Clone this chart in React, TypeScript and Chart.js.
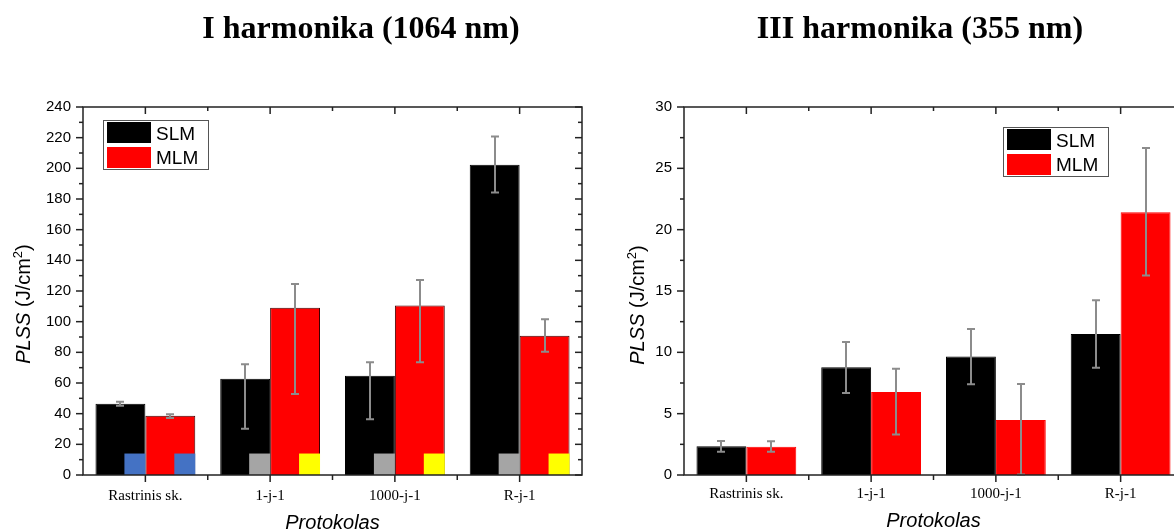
import React, { useEffect, useRef } from "react";
import { Chart, registerables } from "chart.js";

Chart.register(...registerables);

// ---------- data ----------
const categories = ["Rastrinis sk.", "1-j-1", "1000-j-1", "R-j-1"];
const seriesNames = ["SLM", "MLM"];

// I harmonika (1064 nm)
const slm1064 = [46.5, 62.8, 64.7, 202.3];
const slm1064Low = [45.2, 30.2, 36.3, 184.3];
const slm1064High = [47.8, 72.3, 73.5, 220.8];
const mlm1064 = [38.6, 109.0, 110.6, 90.8];
const mlm1064Low = [37.2, 52.8, 73.5, 80.3];
const mlm1064High = [39.6, 124.6, 127.2, 101.6];
const slm1064Marks = ["#4472C4", "#A5A5A5", "#A5A5A5", "#A5A5A5"];
const mlm1064Marks = ["#4472C4", "#FFFF00", "#FFFF00", "#FFFF00"];
const markValue1064 = 14;
const yTicks1064 = { min: 0, max: 240, step: 20 };

// III harmonika (355 nm)
const slm355 = [2.34, 8.78, 9.67, 11.49];
const slm355Low = [1.9, 6.68, 7.39, 8.75];
const slm355High = [2.77, 10.84, 11.9, 14.24];
const mlm355 = [2.3, 6.76, 4.48, 21.41];
const mlm355Low = [1.9, 3.31, 0.05, 16.27];
const mlm355High = [2.75, 8.66, 7.42, 26.65];
const yTicks355 = { min: 0, max: 30, step: 5 };

const title1064 = "I harmonika (1064 nm)";
const title355 = "III harmonika (355 nm)";
const xAxisTitle = "Protokolas";
const yAxisTitleParts = [
  { text: "PLSS", italic: true },
  { text: " (J/cm" },
  { text: "2", sup: true },
  { text: ")" },
];

// ---------- plugins ----------
const SANS = '"Liberation Sans", Arial, sans-serif';
const SERIF = '"Liberation Serif", "Times New Roman", serif';

const markersPlugin = {
  id: "markers",
  afterDatasetsDraw(chart: any, _a: any, o: any) {
    if (!o || !o.colors) return;
    const { ctx } = chart;
    const y = chart.scales.y;
    ctx.save();
    o.colors.forEach((cols: string[], d: number) => {
      const meta = chart.getDatasetMeta(d);
      meta.data.forEach((bar: any, j: number) => {
        const p = bar.getProps(["x", "width"], true);
        const right = p.x + p.width / 2;
        const w = p.width * 0.42;
        const top = y.getPixelForValue(o.value);
        const bottom = y.getPixelForValue(0);
        ctx.fillStyle = cols[j];
        ctx.fillRect(right - w, top, w, bottom - top);
      });
    });
    ctx.restore();
  },
};

const errorBarsPlugin = {
  id: "errorBars",
  afterDatasetsDraw(chart: any, _a: any, o: any) {
    if (!o || !o.lows) return;
    const { ctx } = chart;
    const y = chart.scales.y;
    ctx.save();
    ctx.strokeStyle = "#8c8c8c";
    ctx.lineWidth = 2;
    o.lows.forEach((lows: number[], d: number) => {
      const highs = o.highs[d];
      const meta = chart.getDatasetMeta(d);
      meta.data.forEach((bar: any, j: number) => {
        const p = bar.getProps(["x"], true);
        const x = Math.round(p.x);
        const y1 = y.getPixelForValue(lows[j]);
        const y2 = y.getPixelForValue(highs[j]);
        ctx.beginPath();
        ctx.moveTo(x, y1);
        ctx.lineTo(x, y2);
        ctx.moveTo(x - 4, y1);
        ctx.lineTo(x + 4, y1);
        ctx.moveTo(x - 4, y2);
        ctx.lineTo(x + 4, y2);
        ctx.stroke();
      });
    });
    ctx.restore();
  },
};

const framePlugin = {
  id: "frame",
  afterDraw(chart: any) {
    const { ctx, chartArea: a } = chart;
    const x = chart.scales.x;
    const y = chart.scales.y;
    ctx.save();
    ctx.strokeStyle = "#222";
    ctx.lineWidth = 1.5;
    const line = (x1: number, y1: number, x2: number, y2: number) => {
      ctx.beginPath();
      ctx.moveTo(x1, y1);
      ctx.lineTo(x2, y2);
      ctx.stroke();
    };
    ctx.strokeRect(a.left, a.top, a.right - a.left, a.bottom - a.top);
    const step = y.options.ticks.stepSize;
    const nHalf = Math.round((y.max - y.min) / (step / 2));
    for (let k = 0; k <= nHalf; k++) {
      const v = y.min + (k * step) / 2;
      const py = y.getPixelForValue(v);
      const len = k % 2 === 0 ? 7 : 4;
      line(a.left, py, a.left - len, py);
      line(a.right, py, a.right - len, py);
    }
    const n = chart.data.labels.length;
    for (let i = 0; i < n; i++) {
      const px = x.getPixelForValue(i);
      line(px, a.bottom, px, a.bottom + 7);
      line(px, a.top, px, a.top + 7);
      if (i < n - 1) {
        const pb = (px + x.getPixelForValue(i + 1)) / 2;
        line(pb, a.bottom, pb, a.bottom + 5);
        line(pb, a.top, pb, a.top + 4);
      }
    }
    ctx.restore();
  },
};

const textPlugin = {
  id: "texts",
  afterDraw(chart: any, _a: any, o: any) {
    const { ctx, chartArea: a } = chart;
    ctx.save();
    ctx.fillStyle = "#000";
    // panel title
    ctx.font = `bold 32px ${SERIF}`;
    ctx.textAlign = "center";
    ctx.textBaseline = "alphabetic";
    ctx.fillText(o.title, o.titleX, o.titleY);
    // x axis title
    ctx.font = `italic 20px ${SANS}`;
    ctx.fillText(xAxisTitle, (a.left + a.right) / 2, o.xTitleY);
    // y axis title (rotated)
    const size = 20;
    const fontFor = (p: any) =>
      `${p.italic ? "italic " : ""}${p.sup ? 13 : size}px ${SANS}`;
    let total = 0;
    yAxisTitleParts.forEach((p) => {
      ctx.font = fontFor(p);
      total += ctx.measureText(p.text).width;
    });
    ctx.translate(o.yTitleX, o.yTitleCenter);
    ctx.rotate(-Math.PI / 2);
    ctx.textAlign = "left";
    let cx = -total / 2;
    yAxisTitleParts.forEach((p: any) => {
      ctx.font = fontFor(p);
      ctx.fillText(p.text, cx, p.sup ? -8 : 0);
      cx += ctx.measureText(p.text).width;
    });
    ctx.restore();
    // legend
    ctx.save();
    const lx = o.legendX;
    const ly = o.legendY;
    ctx.strokeStyle = "#555";
    ctx.lineWidth = 1;
    ctx.strokeRect(lx + 0.5, ly + 0.5, 105, 49);
    chart.data.datasets.forEach((ds: any, i: number) => {
      const sy = ly + 2 + i * 25;
      ctx.fillStyle = ds.backgroundColor;
      ctx.fillRect(lx + 4, sy, 44, 21);
      ctx.fillStyle = "#000";
      ctx.font = `19px ${SANS}`;
      ctx.textAlign = "left";
      ctx.textBaseline = "alphabetic";
      ctx.fillText(ds.label, lx + 53, ly + 20 + i * 24);
    });
    ctx.restore();
  },
};

// ---------- config ----------
function makeConfig(p: any) {
  return {
    type: "bar",
    data: {
      labels: categories,
      datasets: [
        {
          label: seriesNames[0],
          data: p.slm,
          backgroundColor: "#000000",
          borderColor: "#000000",
          borderWidth: 1,
        },
        {
          label: seriesNames[1],
          data: p.mlm,
          backgroundColor: "#FF0000",
          borderColor: p.mlmBorder,
          borderWidth: 1,
        },
      ],
    },
    options: {
      animation: false,
      responsive: false,
      maintainAspectRatio: false,
      layout: { padding: { left: 0, top: 107, right: p.padRight, bottom: 0 } },
      datasets: { bar: { categoryPercentage: 0.8, barPercentage: 1.0 } },
      plugins: {
        legend: { display: false },
        tooltip: { enabled: false },
        title: { display: false },
        markers: p.markers,
        errorBars: { lows: p.lows, highs: p.highs },
        texts: p.texts,
      },
      scales: {
        x: {
          grid: { display: false, drawTicks: false },
          border: { display: false },
          ticks: {
            color: "#000",
            font: { family: SERIF, size: 15 },
            padding: p.xPad,
            maxRotation: 0,
            autoSkip: false,
          },
          afterFit: (s: any) => {
            s.height = 57;
          },
        },
        y: {
          min: p.ticks.min,
          max: p.ticks.max,
          grid: { display: false, drawTicks: false },
          border: { display: false },
          ticks: {
            stepSize: p.ticks.step,
            color: "#000",
            font: { family: SANS, size: 15 },
            padding: 12,
          },
          afterFit: (s: any) => {
            s.width = p.yWidth;
          },
        },
      },
    },
    plugins: [markersPlugin, errorBarsPlugin, framePlugin, textPlugin],
  };
}

function ChartCanvas({ build, left, width }: { build: () => any; left: number; width: number }) {
  const ref = useRef<HTMLCanvasElement | null>(null);
  useEffect(() => {
    if (!ref.current) return;
    const chart = new Chart(ref.current, build());
    return () => chart.destroy();
  }, []);
  return (
    <canvas
      ref={ref}
      width={width}
      height={532}
      style={{ position: "absolute", left, top: 0, width, height: 532 }}
    />
  );
}

export default function App() {
  const buildLeft = () =>
    makeConfig({
      slm: slm1064,
      mlm: mlm1064,
      lows: [slm1064Low, mlm1064Low],
      highs: [slm1064High, mlm1064High],
      markers: { colors: [slm1064Marks, mlm1064Marks], value: markValue1064 },
      ticks: yTicks1064,
      mlmBorder: "#3a0000",
      padRight: 18,
      yWidth: 83,
      xPad: 12,
      texts: {
        title: title1064,
        titleX: 361,
        titleY: 38,
        xTitleY: 529,
        yTitleX: 30,
        yTitleCenter: 304,
        legendX: 103,
        legendY: 120,
      },
    });
  const buildRight = () =>
    makeConfig({
      slm: slm355,
      mlm: mlm355,
      lows: [slm355Low, mlm355Low],
      highs: [slm355High, mlm355High],
      markers: null,
      ticks: yTicks355,
      mlmBorder: "#FF0000",
      padRight: 17,
      yWidth: 84,
      xPad: 10,
      texts: {
        title: title355,
        titleX: 320,
        titleY: 38,
        xTitleY: 527,
        yTitleX: 44,
        yTitleCenter: 305,
        legendX: 403,
        legendY: 127,
      },
    });
  return (
    <div
      style={{
        position: "absolute",
        left: 0,
        top: 0,
        width: 1174,
        height: 532,
        overflow: "hidden",
        background: "#fff",
      }}
    >
      <ChartCanvas build={buildLeft} left={0} width={600} />
      <ChartCanvas build={buildRight} left={600} width={600} />
    </div>
  );
}
